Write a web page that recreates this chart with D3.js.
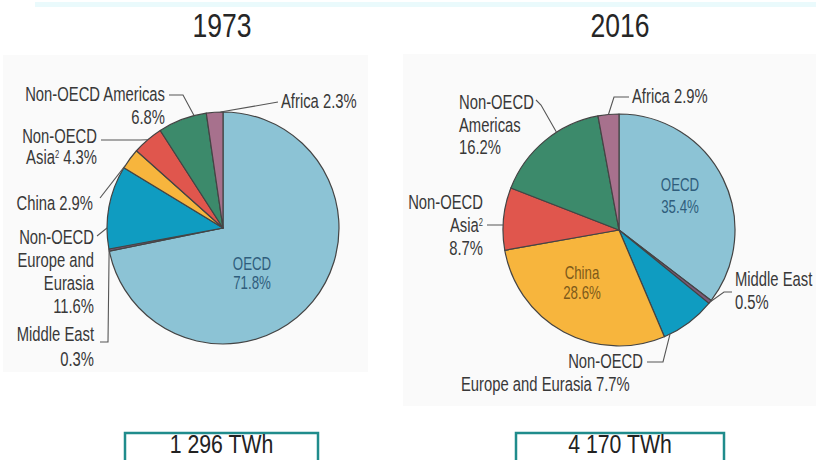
<!DOCTYPE html>
<html>
<head>
<meta charset="utf-8">
<script src="https://cdn.jsdelivr.net/npm/d3@7"></script>
<style>
  html, body { margin: 0; padding: 0; background: #ffffff; }
  svg { display: block; }
  .lbl { font-family: "Liberation Sans", Arial, sans-serif; fill: #383838; }
</style>
</head>
<body>
<svg id="chart" width="816" height="460"></svg>
<script>
// ---- data ----
const regions = ["OECD", "Middle East", "Non-OECD Europe and Eurasia", "China", "Non-OECD Asia", "Non-OECD Americas", "Africa"];
const share1973 = [71.8, 0.3, 11.6, 2.9, 4.3, 6.8, 2.3];
const share2016 = [35.4, 0.5, 7.7, 28.6, 8.7, 16.2, 2.9];
const years = ["1973", "2016"];
const totals = ["1 296 TWh", "4 170 TWh"];
const sliceColors = ["#8cc3d5", "#7b5877", "#0f9cc1", "#f7b53d", "#e0564d", "#3c8a6b", "#a7718d"];

// ---- layout ----
const svg = d3.select("#chart");
const W = 816, H = 460;
const NARROW = 0.76; // horizontal condensing of label type

// faint decorations
svg.append("rect").attr("x", 35).attr("y", 2).attr("width", W - 35).attr("height", 5).attr("fill", "#eafafc");
svg.append("rect").attr("x", 3).attr("y", 55).attr("width", 365).attr("height", 317).attr("fill", "#fafafa");
svg.append("rect").attr("x", 403).attr("y", 54).attr("width", W - 403).attr("height", 352).attr("fill", "#fafafa");

const fmt = v => d3.format(".1f")(v) + "%";

function narrowText(x, y, anchor, size, sx) {
  return svg.append("text").attr("class", "lbl")
    .attr("transform", `translate(${x},${y}) scale(${sx},1)`)
    .attr("x", 0).attr("y", 0)
    .attr("text-anchor", anchor)
    .attr("font-size", size + "px");
}

// label layouts (positions only; text comes from data arrays)
const charts = [
  {
    year: years[0], total: totals[0], values: share1973,
    cx: 223, cy: 228, r: 116, titleX: 222, boxX: 125, boxW: 193,
    inner: [{ i: 0, x: 252, y: 270, lh: 19, color: "#2f5d7c", lines: ["OECD", "{v}"] }],
    labels: [
      { i: 5, x: 165, y: 101, lh: 23, anchor: "end", lines: ["Non-OECD Americas", "{v}"], leader: [[169, 95], [183, 95]], frac: 0.75 },
      { i: 6, x: 281, y: 108, lh: 23, anchor: "start", lines: ["Africa {v}"], leader: [[278, 102]], frac: 0.85 },
      { i: 4, x: 97, y: 143, lh: 21, anchor: "end", lines: ["Non-OECD", "Asia^2 {v}"], leader: [[101, 140], [140, 140]], frac: 0.5 },
      { i: 3, x: 93, y: 210, lh: 23, anchor: "end", lines: ["China {v}"], leader: [[100, 198]], frac: 0.1 },
      { i: 2, x: 94, y: 244, lh: 23, anchor: "end", lines: ["Non-OECD", "Europe and", "Eurasia", "{v}"], leader: [[97, 236]], frac: 0.25 },
      { i: 1, x: 94, y: 341, lh: 25, anchor: "end", lines: ["Middle East", "{v}"], leader: [[100, 342], [108, 342]], frac: 0.5 }
    ]
  },
  {
    year: years[1], total: totals[1], values: share2016,
    cx: 619, cy: 230, r: 116, titleX: 620, boxX: 516, boxW: 208,
    inner: [
      { i: 0, x: 680, y: 191, lh: 22, color: "#2f5d7c", lines: ["OECD", "{v}"] },
      { i: 3, x: 582, y: 279, lh: 20, color: "#7d5a1a", lines: ["China", "{v}"] }
    ],
    labels: [
      { i: 5, x: 459, y: 109, lh: 22.5, anchor: "start", lines: ["Non-OECD", "Americas", "{v}"], leader: [[536, 100], [541, 105]], frac: 0.62 },
      { i: 6, x: 632, y: 103, lh: 23, anchor: "start", lines: ["Africa {v}"], leader: [[629, 97], [614, 97]], frac: 0.5 },
      { i: 4, x: 483, y: 209, lh: 23, anchor: "end", lines: ["Non-OECD", "Asia^2", "{v}"], leader: [[487, 225]], frac: 0.4 },
      { i: 1, x: 735, y: 286, lh: 23, anchor: "start", lines: ["Middle East", "{v}"], leader: [[732, 292], [724, 292]], frac: 0.5 },
      { i: 2, x: 643, y: 368, lh: 23, anchor: "end", lines: ["Non-OECD", { t: "Europe and Eurasia {v}", x: 461, a: "start" }], leader: [[647, 362], [663, 362]], frac: 0.89 }
    ]
  }
];

const pie = d3.pie().sort(null).value(d => d).startAngle(0).endAngle(2 * Math.PI);

function writeLine(textSel, str, v) {
  const s = str.replace("{v}", fmt(v));
  const parts = s.split("^2");
  textSel.append("tspan").text(parts[0]);
  if (parts.length > 1) {
    textSel.append("tspan").attr("baseline-shift", "super").attr("font-size", "10px").text("2");
    textSel.append("tspan").text(parts[1]);
  }
}

charts.forEach(c => {
  const arcs = pie(c.values);
  const arc = d3.arc().innerRadius(0).outerRadius(c.r);
  const g = svg.append("g");

  // title
  narrowText(c.titleX, 37, "middle", 34, 0.78)
    .style("fill", "#262626")
    .text(c.year);

  // slices
  g.attr("transform", `translate(${c.cx},${c.cy})`)
    .selectAll("path").data(arcs).join("path")
    .attr("d", arc)
    .attr("fill", (d, i) => sliceColors[i])
    .attr("stroke", "#444444").attr("stroke-width", 1.2).attr("stroke-linejoin", "round");

  // outer labels + leaders
  c.labels.forEach(L => {
    const a = arcs[L.i];
    const ang = a.startAngle + L.frac * (a.endAngle - a.startAngle);
    const ax = c.cx + c.r * Math.sin(ang), ay = c.cy - c.r * Math.cos(ang);
    const pts = L.leader.concat([[ax, ay]]);
    svg.append("path").attr("d", d3.line()(pts))
      .attr("fill", "none").attr("stroke", "#555555").attr("stroke-width", 1.1);
    L.lines.forEach((ln, k) => {
      const obj = typeof ln === "string" ? { t: ln } : ln;
      const t = narrowText(obj.x !== undefined ? obj.x : L.x, L.y + k * L.lh, obj.a || L.anchor, 19.5, NARROW);
      writeLine(t, obj.t, c.values[L.i]);
    });
  });

  // inner labels
  c.inner.forEach(L => {
    L.lines.forEach((ln, k) => {
      const t = narrowText(L.x, L.y + k * L.lh, "middle", 17.5, NARROW).style("fill", L.color);
      writeLine(t, ln, c.values[L.i]);
    });
  });

  // total box
  svg.append("rect")
    .attr("x", c.boxX).attr("y", 433).attr("width", c.boxW).attr("height", 40)
    .attr("fill", "#ffffff").attr("stroke", "#208c8c").attr("stroke-width", 2.5);
  svg.append("text")
    .attr("transform", `translate(${c.boxX + c.boxW / 2},453) scale(0.85,1)`)
    .attr("text-anchor", "middle")
    .attr("font-size", "25px").attr("fill", "#222222")
    .style("font-family", "'Liberation Sans', Arial, sans-serif")
    .text(c.total);
});
</script>
</body>
</html>
